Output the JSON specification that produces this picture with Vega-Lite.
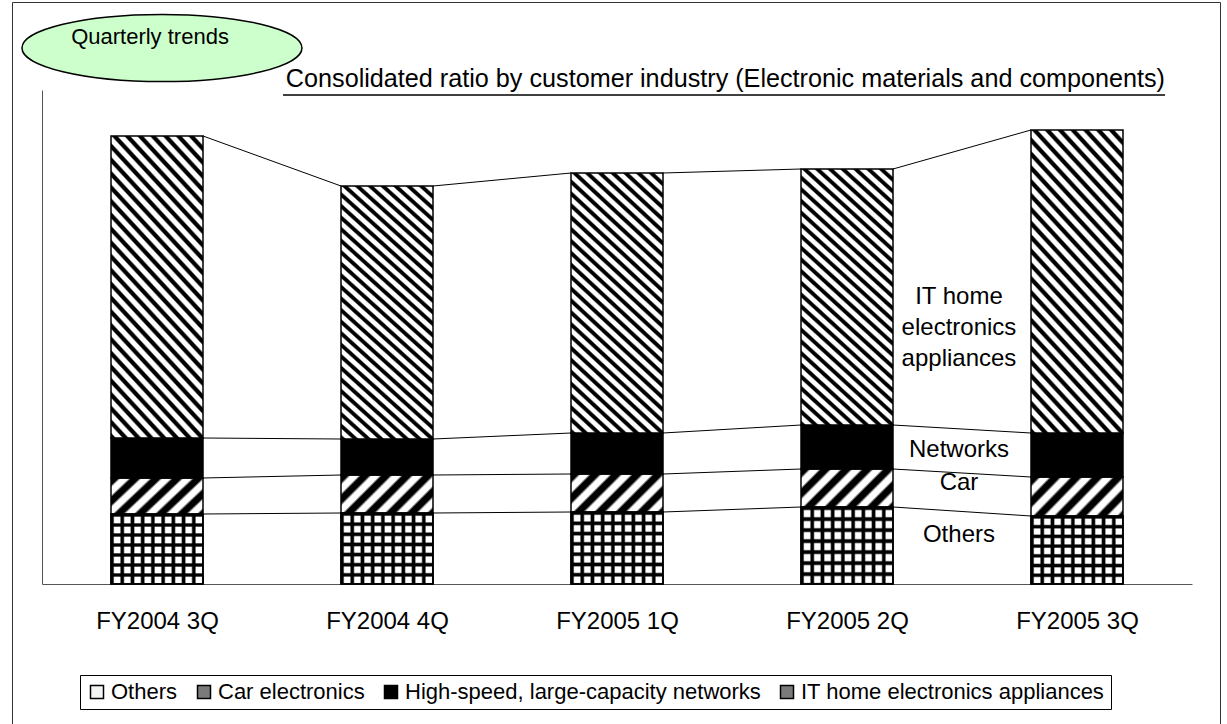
{
  "$schema": "https://vega.github.io/schema/vega-lite/v6.json",
  "width": 1208,
  "height": 725,
  "autosize": {"type": "none"},
  "padding": {"left": 12, "top": 2, "right": 7, "bottom": 0},
  "background": "white",
  "title": {"text": "Consolidated ratio by customer industry (Electronic materials and components)", "anchor": "end", "frame": "group", "offset": -110, "dx": -55, "fontSize": 25.2, "fontWeight": "normal", "font": "Liberation Sans", "baseline": "alphabetic", "color": "black"},
  "config": {
    "font": "Liberation Sans",
    "view": {"stroke": "#333", "strokeWidth": 1},
    "axis": {"grid": false, "title": null}
  },
  "datasets": {
    "main": [
      {"q": "FY2004 3Q", "s": "Others", "r": 1, "v": 70},
      {"q": "FY2004 3Q", "s": "Car electronics", "r": 2, "v": 36},
      {"q": "FY2004 3Q", "s": "High-speed, large-capacity networks", "r": 3, "v": 40},
      {"q": "FY2004 3Q", "s": "IT home electronics appliances", "r": 4, "v": 302},
      {"q": "FY2004 4Q", "s": "Others", "r": 1, "v": 71},
      {"q": "FY2004 4Q", "s": "Car electronics", "r": 2, "v": 38},
      {"q": "FY2004 4Q", "s": "High-speed, large-capacity networks", "r": 3, "v": 36},
      {"q": "FY2004 4Q", "s": "IT home electronics appliances", "r": 4, "v": 253},
      {"q": "FY2005 1Q", "s": "Others", "r": 1, "v": 72},
      {"q": "FY2005 1Q", "s": "Car electronics", "r": 2, "v": 38},
      {"q": "FY2005 1Q", "s": "High-speed, large-capacity networks", "r": 3, "v": 41},
      {"q": "FY2005 1Q", "s": "IT home electronics appliances", "r": 4, "v": 260},
      {"q": "FY2005 2Q", "s": "Others", "r": 1, "v": 77},
      {"q": "FY2005 2Q", "s": "Car electronics", "r": 2, "v": 38},
      {"q": "FY2005 2Q", "s": "High-speed, large-capacity networks", "r": 3, "v": 44},
      {"q": "FY2005 2Q", "s": "IT home electronics appliances", "r": 4, "v": 256},
      {"q": "FY2005 3Q", "s": "Others", "r": 1, "v": 68},
      {"q": "FY2005 3Q", "s": "Car electronics", "r": 2, "v": 39},
      {"q": "FY2005 3Q", "s": "High-speed, large-capacity networks", "r": 3, "v": 44},
      {"q": "FY2005 3Q", "s": "IT home electronics appliances", "r": 4, "v": 303}
    ],
    "labels": [
      {"q": "FY2005 2Q", "t": "IT home\nelectronics\nappliances", "v": 287},
      {"q": "FY2005 2Q", "t": "Networks", "v": 134},
      {"q": "FY2005 2Q", "t": "Car", "v": 101},
      {"q": "FY2005 2Q", "t": "Others", "v": 49}
    ],
    "note": [
      {"q": "FY2004 3Q", "t": "Quarterly trends"}
    ],
    "underline": [
      {"a": "FY2004 3Q", "b": "FY2005 3Q"}
    ]
  },
  "layer": [
    {
      "data": {"name": "main"},
      "transform": [
        {"stack": "v", "groupby": ["q"], "sort": [{"field": "r", "order": "ascending"}], "as": ["v0", "v1"]}
      ],
      "mark": {"type": "bar", "stroke": "black", "strokeWidth": 1.5},
      "encoding": {
        "x": {
          "field": "q", "type": "nominal",
          "scale": {"range": [30, 1180], "paddingInner": 0.6, "paddingOuter": 0.3},
          "axis": {"orient": "bottom", "offset": -143, "labelAngle": 0, "labelFontSize": 24, "labelColor": "black", "labelPadding": 33, "domainColor": "#555", "tickColor": "#444", "tickWidth": 1, "tickSize": -8, "tickBand": "extent", "title": null}
        },
        "y": {
          "field": "v1", "type": "quantitative",
          "scale": {"domain": [0, 494], "range": [582, 88], "nice": false},
          "axis": {"offset": -30, "labels": false, "ticks": false, "domainColor": "#555", "title": null}
        },
        "y2": {"field": "v0"},
        "fill": {
          "condition": [
            {"test": "datum.s === 'IT home electronics appliances'", "value": {"gradient": "linear", "x1": 0, "y1": 1, "x2": 0.3945, "y2": -0.199, "stops": [
              {"offset":0,"color":"#000"},{"offset":0.0103,"color":"#000"},{"offset":0.0155,"color":"#fff"},{"offset":0.0292,"color":"#fff"},
              {"offset":0.0344,"color":"#000"},{"offset":0.0447,"color":"#000"},{"offset":0.0499,"color":"#fff"},{"offset":0.0636,"color":"#fff"},
              {"offset":0.0688,"color":"#000"},{"offset":0.0791,"color":"#000"},{"offset":0.0843,"color":"#fff"},{"offset":0.098,"color":"#fff"},
              {"offset":0.1032,"color":"#000"},{"offset":0.1135,"color":"#000"},{"offset":0.1187,"color":"#fff"},{"offset":0.1324,"color":"#fff"},
              {"offset":0.1376,"color":"#000"},{"offset":0.1479,"color":"#000"},{"offset":0.1531,"color":"#fff"},{"offset":0.1668,"color":"#fff"},
              {"offset":0.172,"color":"#000"},{"offset":0.1823,"color":"#000"},{"offset":0.1875,"color":"#fff"},{"offset":0.2012,"color":"#fff"},
              {"offset":0.2064,"color":"#000"},{"offset":0.2167,"color":"#000"},{"offset":0.2219,"color":"#fff"},{"offset":0.2356,"color":"#fff"},
              {"offset":0.2408,"color":"#000"},{"offset":0.2511,"color":"#000"},{"offset":0.2563,"color":"#fff"},{"offset":0.27,"color":"#fff"},
              {"offset":0.2752,"color":"#000"},{"offset":0.2855,"color":"#000"},{"offset":0.2907,"color":"#fff"},{"offset":0.3044,"color":"#fff"},
              {"offset":0.3096,"color":"#000"},{"offset":0.3199,"color":"#000"},{"offset":0.3251,"color":"#fff"},{"offset":0.3388,"color":"#fff"},
              {"offset":0.344,"color":"#000"},{"offset":0.3543,"color":"#000"},{"offset":0.3595,"color":"#fff"},{"offset":0.3732,"color":"#fff"},
              {"offset":0.3784,"color":"#000"},{"offset":0.3887,"color":"#000"},{"offset":0.3939,"color":"#fff"},{"offset":0.4076,"color":"#fff"},
              {"offset":0.4128,"color":"#000"},{"offset":0.4231,"color":"#000"},{"offset":0.4283,"color":"#fff"},{"offset":0.442,"color":"#fff"},
              {"offset":0.4472,"color":"#000"},{"offset":0.4575,"color":"#000"},{"offset":0.4627,"color":"#fff"},{"offset":0.4764,"color":"#fff"},
              {"offset":0.4816,"color":"#000"},{"offset":0.4919,"color":"#000"},{"offset":0.4971,"color":"#fff"},{"offset":0.5108,"color":"#fff"},
              {"offset":0.516,"color":"#000"},{"offset":0.5263,"color":"#000"},{"offset":0.5315,"color":"#fff"},{"offset":0.5452,"color":"#fff"},
              {"offset":0.5504,"color":"#000"},{"offset":0.5607,"color":"#000"},{"offset":0.5659,"color":"#fff"},{"offset":0.5796,"color":"#fff"},
              {"offset":0.5848,"color":"#000"},{"offset":0.5951,"color":"#000"},{"offset":0.6003,"color":"#fff"},{"offset":0.614,"color":"#fff"},
              {"offset":0.6192,"color":"#000"},{"offset":0.6295,"color":"#000"},{"offset":0.6347,"color":"#fff"},{"offset":0.6484,"color":"#fff"},
              {"offset":0.6536,"color":"#000"},{"offset":0.6639,"color":"#000"},{"offset":0.6691,"color":"#fff"},{"offset":0.6828,"color":"#fff"},
              {"offset":0.688,"color":"#000"},{"offset":0.6983,"color":"#000"},{"offset":0.7035,"color":"#fff"},{"offset":0.7172,"color":"#fff"},
              {"offset":0.7224,"color":"#000"},{"offset":0.7327,"color":"#000"},{"offset":0.7379,"color":"#fff"},{"offset":0.7516,"color":"#fff"},
              {"offset":0.7568,"color":"#000"},{"offset":0.7671,"color":"#000"},{"offset":0.7723,"color":"#fff"},{"offset":0.786,"color":"#fff"},
              {"offset":0.7912,"color":"#000"},{"offset":0.8015,"color":"#000"},{"offset":0.8067,"color":"#fff"},{"offset":0.8204,"color":"#fff"},
              {"offset":0.8256,"color":"#000"},{"offset":0.8359,"color":"#000"},{"offset":0.8411,"color":"#fff"},{"offset":0.8548,"color":"#fff"},
              {"offset":0.86,"color":"#000"},{"offset":0.8703,"color":"#000"},{"offset":0.8755,"color":"#fff"},{"offset":0.8892,"color":"#fff"},
              {"offset":0.8944,"color":"#000"},{"offset":0.9047,"color":"#000"},{"offset":0.9099,"color":"#fff"},{"offset":0.9236,"color":"#fff"},
              {"offset":0.9288,"color":"#000"},{"offset":0.9391,"color":"#000"},{"offset":0.9443,"color":"#fff"},{"offset":0.958,"color":"#fff"},
              {"offset":0.9632,"color":"#000"},{"offset":0.9735,"color":"#000"},{"offset":0.9787,"color":"#fff"},{"offset":0.9924,"color":"#fff"},
              {"offset":1,"color":"#000"}
            ]}},
            {"test": "datum.s === 'Car electronics'", "value": {"gradient": "linear", "x1": 0, "y1": 0, "x2": 1.207, "y2": 0.4985, "stops": [
              {"offset":0,"color":"#000"},{"offset":0.0565,"color":"#000"},{"offset":0.0808,"color":"#fff"},{"offset":0.1373,"color":"#fff"},
              {"offset":0.1615,"color":"#000"},{"offset":0.218,"color":"#000"},{"offset":0.2423,"color":"#fff"},{"offset":0.2988,"color":"#fff"},
              {"offset":0.323,"color":"#000"},{"offset":0.3795,"color":"#000"},{"offset":0.4038,"color":"#fff"},{"offset":0.4603,"color":"#fff"},
              {"offset":0.4845,"color":"#000"},{"offset":0.541,"color":"#000"},{"offset":0.5653,"color":"#fff"},{"offset":0.6218,"color":"#fff"},
              {"offset":0.646,"color":"#000"},{"offset":0.7025,"color":"#000"},{"offset":0.7268,"color":"#fff"},{"offset":0.7833,"color":"#fff"},
              {"offset":0.8075,"color":"#000"},{"offset":0.864,"color":"#000"},{"offset":0.8883,"color":"#fff"},{"offset":0.9448,"color":"#fff"},
              {"offset":0.969,"color":"#000"},{"offset":1,"color":"#000"}
            ]}},
            {"test": "datum.s === 'Others'", "value": {"gradient": "linear", "x1": 0, "y1": 0, "x2": 1, "y2": 0, "stops": [
              {"offset":0,"color":"#000"},{"offset":0.0222,"color":"#000"},{"offset":0.0389,"color":"#fff"},{"offset":0.0944,"color":"#fff"},
              {"offset":0.1111,"color":"#000"},{"offset":0.1333,"color":"#000"},{"offset":0.15,"color":"#fff"},{"offset":0.2055,"color":"#fff"},
              {"offset":0.2222,"color":"#000"},{"offset":0.2444,"color":"#000"},{"offset":0.2611,"color":"#fff"},{"offset":0.3166,"color":"#fff"},
              {"offset":0.3333,"color":"#000"},{"offset":0.3555,"color":"#000"},{"offset":0.3722,"color":"#fff"},{"offset":0.4277,"color":"#fff"},
              {"offset":0.4444,"color":"#000"},{"offset":0.4666,"color":"#000"},{"offset":0.4833,"color":"#fff"},{"offset":0.5388,"color":"#fff"},
              {"offset":0.5556,"color":"#000"},{"offset":0.5778,"color":"#000"},{"offset":0.5945,"color":"#fff"},{"offset":0.65,"color":"#fff"},
              {"offset":0.6667,"color":"#000"},{"offset":0.6889,"color":"#000"},{"offset":0.7056,"color":"#fff"},{"offset":0.7611,"color":"#fff"},
              {"offset":0.7778,"color":"#000"},{"offset":0.8,"color":"#000"},{"offset":0.8167,"color":"#fff"},{"offset":0.8722,"color":"#fff"},
              {"offset":0.8889,"color":"#000"},{"offset":0.9111,"color":"#000"},{"offset":0.9278,"color":"#fff"},{"offset":0.9833,"color":"#fff"},
              {"offset":1,"color":"#000"}
            ]}},
            {"test": "datum.s === 'High-speed, large-capacity networks'", "value": "#000000"}
          ],
          "field": "s", "type": "nominal",
          "scale": {"domain": ["Others", "Car electronics", "High-speed, large-capacity networks", "IT home electronics appliances"], "range": ["#f4f4f4", "#7a7a7a", "#000000", "#7a7a7a"]},
          "legend": {
            "title": null, "orient": "none", "legendX": 68, "legendY": 673, "direction": "horizontal",
            "symbolType": "square", "symbolSize": 169, "symbolStrokeColor": "black", "symbolStrokeWidth": 1.5, "symbolOpacity": 1,
            "labelFontSize": 22, "labelFont": "Liberation Sans", "labelColor": "black", "labelOffset": 3, "labelLimit": 0,
            "columnPadding": 15, "padding": 6, "strokeColor": "black", "fillColor": "white"
          }
        }
      }
    },
    {
      "data": {"name": "main"},
      "transform": [
        {"stack": "v", "groupby": ["q"], "sort": [{"field": "r", "order": "ascending"}], "as": ["v0", "v1"]},
        {"filter": "datum.s === 'Others'"}
      ],
      "mark": {"type": "bar", "stroke": "black", "strokeWidth": 1.5, "fill": {"gradient": "linear", "x1": 0, "y1": 0, "x2": 0, "y2": 1, "stops": [
        {"offset":0,"color":"#000"},{"offset":0.0286,"color":"#000"},{"offset":0.05,"color":"rgba(0,0,0,0)"},{"offset":0.1214,"color":"rgba(0,0,0,0)"},
        {"offset":0.1429,"color":"#000"},{"offset":0.1715,"color":"#000"},{"offset":0.1929,"color":"rgba(0,0,0,0)"},{"offset":0.2643,"color":"rgba(0,0,0,0)"},
        {"offset":0.2857,"color":"#000"},{"offset":0.3143,"color":"#000"},{"offset":0.3357,"color":"rgba(0,0,0,0)"},{"offset":0.4071,"color":"rgba(0,0,0,0)"},
        {"offset":0.4286,"color":"#000"},{"offset":0.4572,"color":"#000"},{"offset":0.4786,"color":"rgba(0,0,0,0)"},{"offset":0.55,"color":"rgba(0,0,0,0)"},
        {"offset":0.5714,"color":"#000"},{"offset":0.6,"color":"#000"},{"offset":0.6214,"color":"rgba(0,0,0,0)"},{"offset":0.6928,"color":"rgba(0,0,0,0)"},
        {"offset":0.7143,"color":"#000"},{"offset":0.7429,"color":"#000"},{"offset":0.7643,"color":"rgba(0,0,0,0)"},{"offset":0.8357,"color":"rgba(0,0,0,0)"},
        {"offset":0.8571,"color":"#000"},{"offset":0.8857,"color":"#000"},{"offset":0.9071,"color":"rgba(0,0,0,0)"},{"offset":0.9785,"color":"rgba(0,0,0,0)"},
        {"offset":1,"color":"#000"}
      ]}},
      "encoding": {
        "x": {"field": "q", "type": "nominal"},
        "y": {"field": "v1", "type": "quantitative"},
        "y2": {"field": "v0"}
      }
    },
    {
      "data": {"name": "main"},
      "transform": [
        {"stack": "v", "groupby": ["q"], "sort": [{"field": "r", "order": "ascending"}], "as": ["v0", "v1"]},
        {"window": [{"op": "lead", "field": "v1", "as": "n1"}, {"op": "lead", "field": "q", "as": "qn"}], "groupby": ["s"], "sort": [{"field": "q", "order": "ascending"}]},
        {"filter": "datum.qn != null"}
      ],
      "mark": {"type": "rule", "stroke": "black", "strokeWidth": 1},
      "encoding": {
        "x": {"field": "q", "type": "nominal", "bandPosition": 1},
        "x2": {"field": "qn", "bandPosition": 0},
        "y": {"field": "v1", "type": "quantitative"},
        "y2": {"field": "n1"}
      }
    },
    {
      "data": {"name": "labels"},
      "mark": {"type": "text", "fontSize": 24, "lineBreak": "\n", "lineHeight": 31, "align": "center", "baseline": "middle", "color": "black"},
      "encoding": {
        "x": {"field": "q", "type": "nominal", "bandPosition": 1.717},
        "y": {"field": "v", "type": "quantitative"},
        "text": {"field": "t"}
      }
    },
    {
      "data": {"name": "underline"},
      "mark": {"type": "rule", "stroke": "black", "strokeWidth": 1.5},
      "encoding": {
        "x": {"field": "a", "type": "nominal", "bandPosition": 1.87},
        "x2": {"field": "b", "bandPosition": 1.457},
        "y": {"datum": 489, "type": "quantitative"}
      }
    },
    {
      "data": {"name": "note"},
      "mark": {"type": "point", "shape": "M-1,0A1,0.24,0,1,1,1,0A1,0.24,0,1,1,-1,0Z", "size": 78400, "filled": true, "fill": "#ccffcc", "stroke": "black", "strokeWidth": 1.5, "opacity": 1},
      "encoding": {
        "x": {"field": "q", "type": "nominal", "bandPosition": 0.554},
        "y": {"datum": 536, "type": "quantitative"}
      }
    },
    {
      "data": {"name": "note"},
      "mark": {"type": "text", "fontSize": 22, "align": "center", "baseline": "middle", "color": "black"},
      "encoding": {
        "x": {"field": "q", "type": "nominal", "bandPosition": 0.424},
        "y": {"datum": 547, "type": "quantitative"},
        "text": {"field": "t"}
      }
    }
  ]
}
